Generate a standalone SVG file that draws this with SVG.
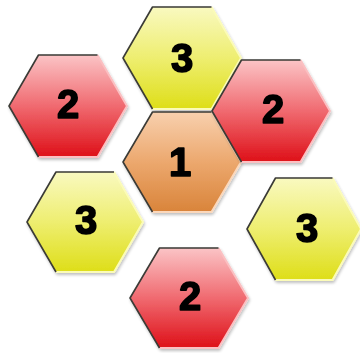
<svg xmlns="http://www.w3.org/2000/svg" width="360" height="353" viewBox="0 0 360 353">
<defs>
<linearGradient id="gRed" x1="0" y1="0" x2="0" y2="1">
<stop offset="0" stop-color="#fbc4c6"/>
<stop offset="0.5" stop-color="#f06a70"/>
<stop offset="1" stop-color="#de1018"/>
</linearGradient>
<linearGradient id="gYel" x1="0" y1="0" x2="0" y2="1">
<stop offset="0" stop-color="#f9f9c0"/>
<stop offset="0.5" stop-color="#eeee70"/>
<stop offset="1" stop-color="#dede18"/>
</linearGradient>
<linearGradient id="gOra" x1="0" y1="0" x2="0" y2="1">
<stop offset="0" stop-color="#f8d0ae"/>
<stop offset="0.5" stop-color="#eca86e"/>
<stop offset="1" stop-color="#d9843a"/>
</linearGradient>
<filter id="sh" x="-10%" y="-10%" width="130%" height="130%">
<feGaussianBlur in="SourceAlpha" stdDeviation="1.5"/>
<feOffset dx="1" dy="2" result="b"/>
<feComponentTransfer><feFuncA type="linear" slope="0.25"/></feComponentTransfer>
<feMerge><feMergeNode/><feMergeNode in="SourceGraphic"/></feMerge>
</filter>
</defs>
<style>
.red{fill:url(#gRed)}
.yel{fill:url(#gYel)}
.ora{fill:url(#gOra)}
.dk{fill:none;stroke:#3a3a36;stroke-width:1.6;stroke-linejoin:round}
.ltR{fill:none;stroke:#fbc0c2;stroke-width:2;stroke-linejoin:round}
.ltY{fill:none;stroke:#fbfbb8;stroke-width:2;stroke-linejoin:round}
.ltO{fill:none;stroke:#fbd8bc;stroke-width:2;stroke-linejoin:round}
.lbl{font-family:"Liberation Sans",Arial,sans-serif;font-weight:bold;font-size:40px;fill:#000;stroke:#000;stroke-width:1.6;stroke-linejoin:round;text-anchor:middle}
</style>
<rect width="360" height="353" fill="#ffffff"/>

<g id="hex-2-topleft" filter="url(#sh)">
<polygon class="red" points="9,106 38.5,55 97.5,55 127,106 97.5,157 38.5,157"/>
<path class="ltR" d="M97.5,55 L127,106 L97.5,157 L38.5,157"/>
<path class="dk" d="M38.5,157 L9,106 L38.5,55 L97.5,55"/>
<text class="lbl" x="68" y="118">2</text>
</g>

<g id="hex-3-top" filter="url(#sh)">
<polygon class="yel" points="123,58 152.5,7 211.5,7 241,58 211.5,109 152.5,109"/>
<path class="ltY" d="M211.5,7 L241,58 L211.5,109 L152.5,109"/>
<path class="dk" d="M152.5,109 L123,58 L152.5,7 L211.5,7"/>
<text class="lbl" x="182" y="72">3</text>
</g>

<g id="hex-1-center" filter="url(#sh)">
<polygon class="ora" points="123,162 152.5,112 211.5,112 241,162 211.5,212 152.5,212"/>
<path class="ltO" d="M211.5,112 L241,162 L211.5,212 L152.5,212"/>
<path class="dk" d="M152.5,212 L123,162 L152.5,112 L211.5,112"/>
<text class="lbl" x="180" y="176">1</text>
</g>

<g id="hex-2-right" filter="url(#sh)">
<polygon class="red" points="212,111 241.5,60 300.5,60 330,111 300.5,162 241.5,162"/>
<path class="ltR" d="M300.5,60 L330,111 L300.5,162 L241.5,162"/>
<path class="dk" d="M241.5,162 L212,111 L241.5,60 L300.5,60"/>
<text class="lbl" x="273" y="123">2</text>
</g>

<g id="hex-3-left" filter="url(#sh)">
<polygon class="yel" points="27,222 56,172 114,172 143,222 114,272 56,272"/>
<path class="ltY" d="M114,172 L143,222 L114,272 L56,272"/>
<path class="dk" d="M56,272 L27,222 L56,172 L114,172"/>
<text class="lbl" x="86" y="234">3</text>
</g>

<g id="hex-3-right" filter="url(#sh)">
<polygon class="yel" points="247,229 275.5,178 332.5,178 361,229 332.5,280 275.5,280"/>
<path class="ltY" d="M332.5,178 L361,229 L332.5,280 L275.5,280"/>
<path class="dk" d="M275.5,280 L247,229 L275.5,178 L332.5,178"/>
<text class="lbl" x="307" y="242">3</text>
</g>

<g id="hex-2-bottom" filter="url(#sh)">
<polygon class="red" points="130,298 159.5,248 218.5,248 248,298 218.5,348 159.5,348"/>
<path class="ltR" d="M218.5,248 L248,298 L218.5,348 L159.5,348"/>
<path class="dk" d="M159.5,348 L130,298 L159.5,248 L218.5,248"/>
<text class="lbl" x="190" y="310">2</text>
</g>

<g id="connectors"/>
</svg>
